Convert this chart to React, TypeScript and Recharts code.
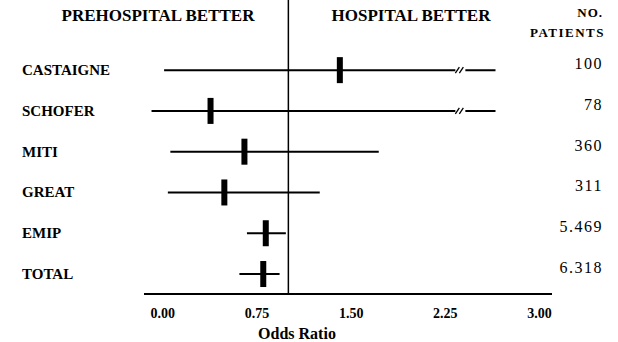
import React from "react"
import { ScatterChart, Scatter, XAxis, YAxis, ErrorBar, ReferenceLine, ReferenceDot } from "recharts"

// study rows, top to bottom
const studies = ["CASTAIGNE", "SCHOFER", "MITI", "GREAT", "EMIP", "TOTAL"]
const oddsRatio = [1.41, 0.38, 0.65, 0.49, 0.82, 0.8]
const ciLow = [0.01, -0.09, 0.06, 0.04, 0.67, 0.61]
const ciHigh = [2.65, 2.65, 1.72, 1.25, 0.98, 0.93]
const patients = ["100", "78", "360", "311", "5.469", "6.318"]
// rows whose interval is drawn with an axis break
const brokenRows = [0, 1]
const breakAt = 2.37
const xTicks = [0, 0.75, 1.5, 2.25, 3]
const rowTicks = [0, 1, 2, 3, 4, 5]

const FONT = '"Liberation Serif", "Times New Roman", serif'

const data = studies.map((name, i) => ({
  name,
  row: i,
  or: oddsRatio[i],
  err: [oddsRatio[i] - ciLow[i], ciHigh[i] - oddsRatio[i]],
}))

const Marker = ({ cx, cy }: any) => <rect x={cx - 3} y={cy - 13} width={6} height={26} fill="#000" />

const BreakMark = ({ cx, cy }: any) => (
  <g>
    <rect x={cx - 5} y={cy - 3} width={10} height={6} fill="#fff" />
    <line x1={cx - 5} y1={cy + 3} x2={cx - 1} y2={cy - 3} stroke="#000" strokeWidth={1.3} />
    <line x1={cx - 1} y1={cy + 3} x2={cx + 3} y2={cy - 3} stroke="#000" strokeWidth={1.3} />
  </g>
)

// study name on the left, patient count on the right
const RowTick = ({ y, payload }: any) => (
  <g>
    <text x={22} y={y} dy={5} fontFamily={FONT} fontWeight="bold" fontSize={15} fill="#000">
      {studies[payload.value]}
    </text>
    <text x={603} y={y} dy={-1} textAnchor="end" fontFamily={FONT} fontSize={16} letterSpacing={1.5} fill="#000">
      {patients[payload.value]}
    </text>
  </g>
)

export default function App() {
  return (
    <div style={{ position: "absolute", left: 0, top: 0, width: 618, height: 342, background: "#fff" }}>
      <ScatterChart width={618} height={342} margin={{ top: 0, right: 66, bottom: 0, left: 0 }}>
        <XAxis
          type="number"
          dataKey="or"
          domain={[-0.15, 3.1]}
          ticks={xTicks}
          allowDataOverflow
          tickFormatter={(v) => v.toFixed(2)}
          tick={{ fontFamily: FONT, fontWeight: "bold", fontSize: 14, fill: "#000" }}
          tickLine={false}
          tickMargin={8}
          axisLine={{ stroke: "#000", strokeWidth: 2 }}
          height={48}
          label={{
            content: ({ viewBox }: any) => (
              <text
                x={viewBox.x + viewBox.width * 0.375}
                y={viewBox.y + 45}
                textAnchor="middle"
                fontFamily={FONT}
                fontWeight="bold"
                fontSize={16}
                fill="#000"
              >
                Odds Ratio
              </text>
            ),
          }}
        />
        <YAxis
          type="number"
          dataKey="row"
          domain={[-1.72, 5.49]}
          reversed
          ticks={rowTicks}
          width={144}
          axisLine={false}
          tickLine={false}
          tick={<RowTick />}
        />
        <ReferenceLine x={1} stroke="#000" strokeWidth={1.5} />
        <Scatter data={data} dataKey="or" shape={<Marker />} isAnimationActive={false}>
          <ErrorBar dataKey="err" direction="x" width={0} stroke="#000" strokeWidth={2} />
        </Scatter>
        {brokenRows.map((r) => (
          <ReferenceDot key={r} x={breakAt} y={r} ifOverflow="visible" shape={<BreakMark />} />
        ))}
      </ScatterChart>
      <svg width={618} height={342} style={{ position: "absolute", left: 0, top: 0, pointerEvents: "none" }}>
        <text x={158} y={21} textAnchor="middle" fontFamily={FONT} fontWeight="bold" fontSize={17} fill="#000">
          PREHOSPITAL BETTER
        </text>
        <text x={411} y={21} textAnchor="middle" fontFamily={FONT} fontWeight="bold" fontSize={17} fill="#000">
          HOSPITAL BETTER
        </text>
        <text x={603} y={17} textAnchor="end" fontFamily={FONT} fontWeight="bold" fontSize={13} letterSpacing={1} fill="#000">
          NO.
        </text>
        <text x={605} y={37} textAnchor="end" fontFamily={FONT} fontWeight="bold" fontSize={13} letterSpacing={1.5} fill="#000">
          PATIENTS
        </text>
      </svg>
    </div>
  )
}
